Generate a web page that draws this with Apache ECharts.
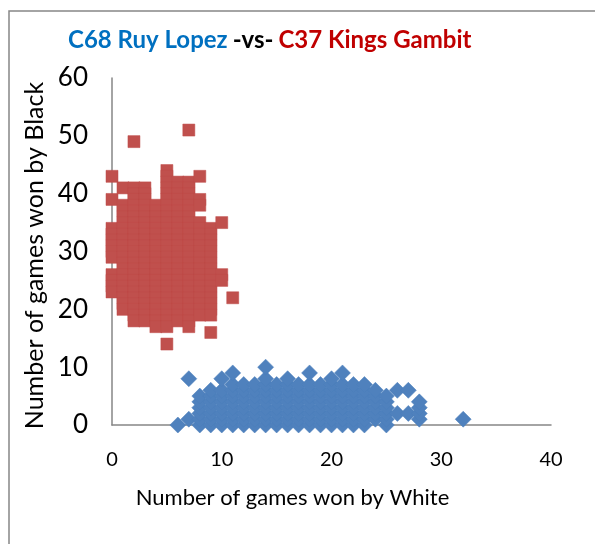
<!DOCTYPE html>
<html>
<head>
<meta charset="utf-8">
<script src="https://cdn.jsdelivr.net/npm/echarts@6/dist/echarts.min.js"></script>
<style>
html,body{margin:0;padding:0;background:#fff;}
#chart{width:595px;height:544px;}
</style>
</head>
<body>
<div id="chart"></div>
<script>
// ---- Data ----
const titleParts = ["C68 Ruy Lopez", "-vs-", "C37 Kings Gambit"];
const xAxisTitle = "Number of games won by White";
const yAxisTitle = "Number of games won by Black";
const xTicks = [0, 10, 20, 30, 40];
const yTicks = [0, 10, 20, 30, 40, 50, 60];

// C37 Kings Gambit (red squares): x value per column and its y values
const kingsX = [0, 1, 2, 3, 4, 5, 6, 7, 8, 9, 10, 11];
const kingsY = [
  [43,39,34,33,32,31,30,29,26,25,24,23],
  [41,38,37,36,35,34,33,32,31,30,29,28,27,26,25,24,23,22,21,20],
  [49,41,40,39,38,37,36,35,34,33,32,31,30,29,28,27,26,25,24,23,22,21,20,19,18],
  [41,40,39,38,37,36,35,34,33,32,31,30,29,28,27,26,25,24,23,22,21,20,19,18],
  [38,37,36,35,34,33,32,31,30,29,28,27,26,25,24,23,22,21,20,19,18,17],
  [44,43,42,41,40,39,38,37,36,35,34,33,32,31,30,29,28,27,26,25,24,23,22,21,20,19,18,17,14],
  [42,41,40,39,38,37,36,35,34,33,32,31,30,29,28,27,26,25,24,23,22,21,20,19,18],
  [51,42,41,40,39,38,37,36,35,34,33,32,31,30,29,28,27,26,25,24,23,22,21,20,19,18,17],
  [43,39,38,35,34,33,32,31,30,29,28,27,26,25,24,23,22,21,20,19],
  [34,33,32,31,30,29,28,27,26,25,24,23,22,21,20,19,16],
  [35,26,25],
  [22]
];

// C68 Ruy Lopez (blue diamonds): x value per column and its y values
const ruyX = [6, 7, 8, 9, 10, 11, 12, 13, 14, 15, 16, 17, 18, 19, 20, 21, 22, 23, 24, 25, 26, 27, 28, 32];
const ruyY = [
  [0],
  [8,1],
  [0,1,2,3,4,5],
  [0,1,2,3,4,5,6],
  [0,1,2,3,4,5,6,8],
  [0,1,2,3,4,5,6,7,9],
  [0,1,2,3,4,5,6,7],
  [0,1,2,3,4,5,6,7],
  [0,1,2,3,4,5,6,7,8,10],
  [0,1,2,3,4,5,6,7],
  [0,1,2,3,4,5,6,7,8],
  [0,1,2,3,4,5,6,7],
  [0,1,2,3,4,5,6,7,9],
  [0,1,2,3,4,5,6,7],
  [0,1,2,3,4,5,6,7,8],
  [0,1,2,3,4,5,6,7,9],
  [0,1,2,3,4,5,6,7],
  [0,1,2,3,4,5,6,7],
  [1,2,3,4,5,6],
  [0,1,2,3,4,5],
  [6,2],
  [6,2],
  [1,2,3,4],
  [1]
];

// ---- Build point lists ----
function toPoints(xs, ys) {
  const pts = [];
  xs.forEach((x, i) => ys[i].forEach(y => pts.push([x, y])));
  return pts;
}
const kingsPoints = toPoints(kingsX, kingsY);
const ruyPoints = toPoints(ruyX, ruyY);

const FONT = "Lato";
const chart = echarts.init(document.getElementById('chart'), null, {renderer: 'canvas'});
chart.setOption({
  animation: false,
  backgroundColor: '#ffffff',
  title: {
    text: '{a|' + titleParts[0] + '} {b|' + titleParts[1] + '} {c|' + titleParts[2] + '}',
    left: 63,
    top: 23,
    textStyle: {
      rich: {
        a: {color: '#0070C0', fontFamily: FONT, fontWeight: 'bold', fontSize: 24},
        b: {color: '#000000', fontFamily: FONT, fontWeight: 'bold', fontSize: 24},
        c: {color: '#C00000', fontFamily: FONT, fontWeight: 'bold', fontSize: 24}
      }
    }
  },
  graphic: [{
    type: 'rect',
    shape: {x: 9, y: 11, width: 700, height: 700},
    style: {fill: 'none', stroke: '#868686', lineWidth: 1.5},
    silent: true,
    z: -1
  }],
  grid: {left: 112, right: 44, top: 78, bottom: 119, containLabel: false},
  xAxis: {
    type: 'value',
    min: xTicks[0], max: xTicks[xTicks.length - 1], interval: 10,
    name: xAxisTitle,
    nameLocation: 'middle',
    nameGap: 62,
    nameTextStyle: {fontFamily: FONT, fontSize: 22, color: '#000', padding: [0, 78, 0, 0]},
    axisLine: {show: true, onZero: false, lineStyle: {color: '#868686', width: 1.5}},
    axisTick: {show: false},
    splitLine: {show: false},
    axisLabel: {fontFamily: FONT, fontSize: 20, color: '#000', margin: 25}
  },
  yAxis: {
    type: 'value',
    min: yTicks[0], max: yTicks[yTicks.length - 1], interval: 10,
    name: yAxisTitle,
    nameLocation: 'middle',
    nameGap: 60,
    nameTextStyle: {fontFamily: FONT, fontSize: 25, color: '#000', padding: [0, 8, 0, 0]},
    axisLine: {show: true, onZero: false, lineStyle: {color: '#868686', width: 1.5}},
    axisTick: {show: false},
    splitLine: {show: false},
    axisLabel: {fontFamily: FONT, fontSize: 26, color: '#000', margin: 24}
  },
  series: [
    {
      name: titleParts[0],
      type: 'scatter',
      symbol: 'diamond',
      symbolSize: 16,
      data: ruyPoints,
      itemStyle: {color: '#4F81BD', opacity: 1, borderColor: '#4A7EBB', borderWidth: 0.5}
    },
    {
      name: titleParts[2],
      type: 'scatter',
      symbol: 'rect',
      symbolSize: 12,
      data: kingsPoints,
      itemStyle: {color: '#C0504D', opacity: 1, borderColor: '#BE4B48', borderWidth: 0.5}
    }
  ]
});
</script>
</body>
</html>
